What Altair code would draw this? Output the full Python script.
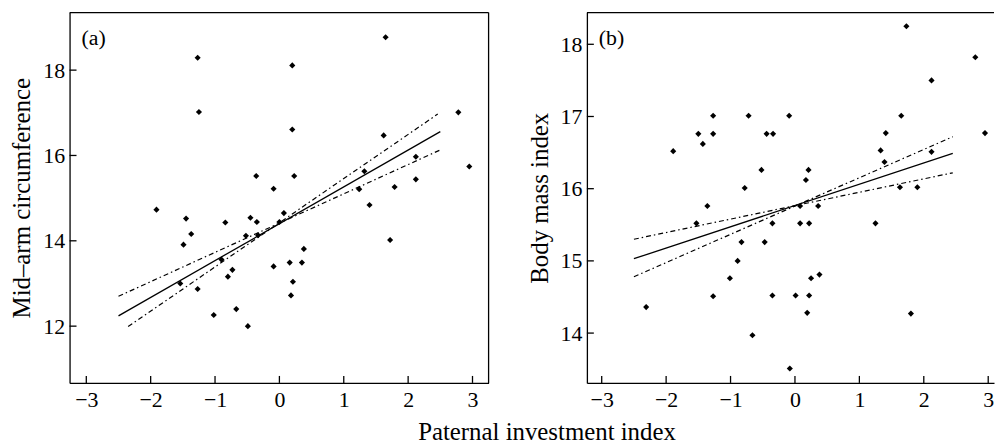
import altair as alt
import pandas as pd

FONT = "Liberation Serif"

# ---------------- data: panel (a) Mid-arm circumference ----------------
a_x = [-1.27, -1.25, 0.20, 0.20, 1.65, 1.62, 2.78, 2.95, 2.12, 2.12, 1.79, 1.32,
       1.24, -0.36, -0.09, 0.23, -1.91, -1.45, -1.37, -1.49, -0.84, -0.45, -0.35,
       -0.52, -0.33, 0.00, 0.07, 1.40, 1.72, -0.90, -1.54, -1.27, -0.73, -0.80,
       -0.09, 0.16, 0.35, 0.38, 0.21, 0.18, -0.67, -1.02, -0.49]
a_y = [18.29, 17.02, 18.11, 16.61, 18.77, 16.47, 17.01, 15.74, 15.97, 15.44, 15.26, 15.63,
       15.21, 15.52, 15.22, 15.52, 14.73, 14.52, 14.16, 13.91, 14.43, 14.54, 14.44,
       14.12, 14.13, 14.44, 14.65, 14.84, 14.02, 13.56, 13.00, 12.87, 13.32, 13.16,
       13.40, 13.49, 13.49, 13.81, 13.04, 12.72, 12.40, 12.26, 12.00]

a_fit_x = [-2.5, 2.5]
a_fit_y = [12.24, 16.56]
a_ci1_x = [-2.5, 2.5]
a_ci1_y = [12.70, 16.13]
a_ci2_x = [-2.35, 2.46]
a_ci2_y = [11.99, 16.97]

# ---------------- data: panel (b) Body mass index ----------------
b_x = [-1.89, -1.50, -1.43, -1.27, -1.27, -0.78, -0.72, -0.52, -0.44, -0.34, -0.09, 0.17,
       0.21, 1.33, 1.39, 1.41, 1.65, 1.73, 1.63, 1.90, 2.12, 2.12, 2.80, 2.95,
       -1.36, -1.53, -0.83, -0.89, -1.01, -1.27, -2.31, -0.66, -0.35, -0.47, -0.35,
       0.01, 0.08, 0.08, 0.22, 0.36, 0.22, 0.19, 0.25, 0.38, -0.08, 1.25, 1.80]
b_y = [16.52, 16.76, 16.62, 17.01, 16.76, 16.01, 17.01, 16.26, 16.76, 16.76, 17.01, 16.12,
       16.26, 16.53, 16.37, 16.77, 17.01, 18.25, 16.02, 16.02, 17.50, 16.51, 17.82, 16.77,
       15.76, 15.52, 15.26, 15.00, 14.76, 14.51, 14.36, 13.97, 15.52, 15.26, 14.52,
       14.52, 15.76, 15.52, 15.52, 15.76, 14.52, 14.28, 14.76, 14.81, 13.51, 15.52, 14.27]

b_fit_x = [-2.5, 2.45]
b_fit_y = [15.03, 16.49]
b_ci1_x = [-2.5, 2.45]
b_ci1_y = [15.30, 16.22]
b_ci2_x = [-2.5, 2.45]
b_ci2_y = [14.78, 16.72]

x_ticks = [-3, -2, -1, 0, 1, 2, 3]
a_y_ticks = [12, 14, 16, 18]
b_y_ticks = [14, 15, 16, 17, 18]

H = 373
DASH = [5, 3, 1.5, 3]


def panel(px, py, fit, ci1, ci2, xdom, ydom, yticks, ytitle, label, W, right_border):
    xs = alt.Scale(domain=xdom, nice=False, zero=False)
    ys = alt.Scale(domain=ydom, nice=False, zero=False)
    xa = alt.Axis(values=x_ticks, ticks=False, tickSize=0, labelPadding=7, title=None,
                  grid=False, domainColor="black", domainWidth=1.3, format="d")
    ya = alt.Axis(values=yticks, ticks=False, tickSize=0, labelPadding=5, title=ytitle,
                  titlePadding=8, grid=False, domainColor="black", domainWidth=1.3,
                  format="d")
    xenc = alt.X("x:Q", scale=xs, axis=xa)
    yenc = alt.Y("y:Q", scale=ys, axis=ya)

    pts = alt.Chart(pd.DataFrame({"x": px, "y": py})).mark_point(
        shape="diamond", filled=True, size=38, color="black", opacity=1
    ).encode(x=xenc, y=yenc)

    fit_df = pd.DataFrame({"x": fit[0], "y": fit[1]})
    fit_line = alt.Chart(fit_df).mark_line(color="black", strokeWidth=1.3).encode(x=xenc, y=yenc)

    ci_df = pd.DataFrame({
        "x": list(ci1[0]) + list(ci2[0]),
        "y": list(ci1[1]) + list(ci2[1]),
        "band": ["upper"] * len(ci1[0]) + ["lower"] * len(ci2[0]),
    })
    ci_lines = alt.Chart(ci_df).mark_line(color="black", strokeWidth=1.2, strokeDash=DASH).encode(
        x=xenc, y=yenc, detail="band:N")

    ytick_rules = alt.Chart(pd.DataFrame({"y": yticks})).mark_rule(
        color="black", strokeWidth=1.3).encode(y=yenc, x=alt.value(0), x2=alt.value(7))
    xtick_rules = alt.Chart(pd.DataFrame({"x": x_ticks})).mark_rule(
        color="black", strokeWidth=1.3).encode(x=xenc, y=alt.value(H), y2=alt.value(H - 7))

    one = pd.DataFrame({"k": [0]})
    top_rule = alt.Chart(one).mark_rule(color="black", strokeWidth=1.3).encode(
        x=alt.value(0), x2=alt.value(W), y=alt.value(0))
    layers = [pts, fit_line, ci_lines, ytick_rules, xtick_rules, top_rule]
    if right_border:
        layers.append(alt.Chart(one).mark_rule(color="black", strokeWidth=1.3).encode(
            x=alt.value(W), y=alt.value(0), y2=alt.value(H)))
    txt = alt.Chart(one).mark_text(text=label, align="left", baseline="middle",
                                   font=FONT, fontSize=22, color="black").encode(
        x=alt.value(12), y=alt.value(26))
    layers.append(txt)
    return alt.layer(*layers).properties(width=W, height=H)


left = panel(a_x, a_y, (a_fit_x, a_fit_y), (a_ci1_x, a_ci1_y), (a_ci2_x, a_ci2_y),
             [-3.26, 3.25], [10.67, 19.35], a_y_ticks, "Mid\u2013arm circumference", "(a)",
             422, True)
right = panel(b_x, b_y, (b_fit_x, b_fit_y), (b_ci1_x, b_ci1_y), (b_ci2_x, b_ci2_y),
              [-3.23, 3.09], [13.31, 18.44], b_y_ticks, "Body mass index", "(b)",
              410, False)

chart = alt.hconcat(left, right, spacing=38).properties(
    padding={"left": 2, "top": 2, "right": 0, "bottom": 0},
    title=alt.TitleParams(text="Paternal investment index", orient="bottom", anchor="middle",
                          dx=45, offset=10, font=FONT, fontSize=25, fontWeight="normal",
                          color="black"),
).configure_view(stroke=None).configure_axis(
    labelFont=FONT, labelFontSize=22, labelColor="black",
    titleFont=FONT, titleFontSize=25, titleColor="black", titleFontWeight="normal",
)

chart.save("out.html", embed_options={"renderer": "svg", "actions": False})
